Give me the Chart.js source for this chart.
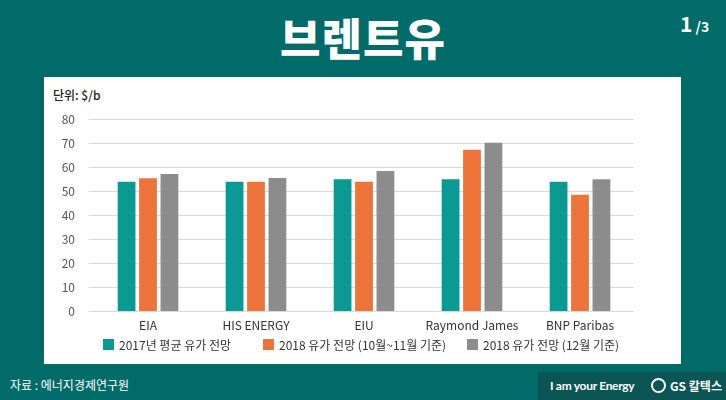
<!DOCTYPE html>
<html><head><meta charset="utf-8">
<script src="https://cdn.jsdelivr.net/npm/chart.js@4/dist/chart.umd.min.js"></script>
<style>
html,body{margin:0;padding:0;}
body{width:726px;height:400px;background:#016b69;position:relative;overflow:hidden;font-family:"Noto Sans CJK KR","Noto Sans",sans-serif;}
#title{position:absolute;left:0;width:726px;top:5px;text-align:center;color:#fff;font-size:44px;font-weight:900;letter-spacing:1px;line-height:64px;}
#page{position:absolute;left:680px;top:8px;color:#fff;font-weight:700;}
#page .a{font-size:21px;}
#page .b{font-size:14px;}
#panel{position:absolute;left:44px;top:77px;width:637px;height:287px;background:#fff;}
#unit{position:absolute;left:9px;top:9px;font-size:12px;color:#222;font-weight:500;}
#legend{position:absolute;left:0;top:0;width:637px;height:287px;pointer-events:none;}
#legend .box{position:absolute;width:11px;height:11px;top:262px;}
#legend .lab{position:absolute;top:259px;font-size:12px;line-height:17px;color:#333;white-space:nowrap;}
#src{position:absolute;left:10px;top:376px;color:#fff;font-size:12px;}
#brand{position:absolute;left:538px;top:372px;width:188px;height:28px;background:#0b5654;color:#fff;}
#brand .t{position:absolute;left:12px;top:6px;font-family:"Lato","Noto Sans",sans-serif;font-weight:700;font-size:12px;letter-spacing:-0.3px;}
#brand .logo{position:absolute;left:113px;top:6px;width:15px;height:15px;border-radius:50%;border:2px solid #fff;box-sizing:border-box;}
#brand .gs{position:absolute;left:132px;top:5px;font-weight:700;font-size:12px;}
canvas{position:absolute;left:0;top:0;}
</style></head>
<body>
<div id="title">브렌트유</div>
<div id="page"><span class="a">1</span><span class="b"> /3</span></div>
<div id="panel">
  <div id="unit">단위: $/b</div>
  <canvas id="c" width="637" height="287"></canvas>
  <div id="legend"></div>
</div>
<div id="src">자료 : 에너지경제연구원</div>
<div id="brand"><span class="t">I am your Energy</span><span class="logo"></span><span class="gs">GS 칼텍스</span></div>
<script>
const categories = ["EIA", "HIS ENERGY", "EIU", "Raymond James", "BNP Paribas"];
const seriesNames = ["2017년 평균 유가 전망", "2018 유가 전망 (10월~11월 기준)", "2018 유가 전망 (12월 기준)"];
const avg2017 = [53.9, 53.9, 55.0, 55.0, 53.9];
const oct2018 = [55.4, 53.9, 53.9, 67.2, 48.5];
const dec2018 = [57.2, 55.5, 58.4, 70.1, 55.0];
const yTicks = [0, 10, 20, 30, 40, 50, 60, 70, 80];
const colors = ["#0c9994", "#ec733a", "#8c8c8c"];

Chart.defaults.font.family = '"Noto Sans CJK KR","Noto Sans",sans-serif';
Chart.defaults.font.size = 12;
Chart.defaults.color = '#333';

// HTML legend built from the series names/colours
const legendX = [59, 219, 423];
const lg = document.getElementById('legend');
seriesNames.forEach((name, i) => {
  const b = document.createElement('div');
  b.className = 'box'; b.style.left = legendX[i] + 'px'; b.style.background = colors[i];
  const t = document.createElement('div');
  t.className = 'lab'; t.style.left = (legendX[i] + 16) + 'px'; t.textContent = name;
  lg.appendChild(b); lg.appendChild(t);
});

new Chart(document.getElementById('c'), {
  type: 'bar',
  data: {
    labels: categories,
    datasets: [avg2017, oct2018, dec2018].map((d, i) => ({
      label: seriesNames[i], data: d, backgroundColor: colors[i],
      barPercentage: 0.83, categoryPercentage: 0.595
    }))
  },
  options: {
    responsive: false, animation: false,
    layout: { padding: { left: 0, right: 47, top: 42, bottom: 24 } },
    plugins: {
      tooltip: { enabled: false },
      legend: { display: false }
    },
    scales: {
      x: {
        grid: { display: false, drawTicks: false },
        border: { display: false },
        ticks: { padding: 7, color: '#333', font: { size: 12 } }
      },
      y: {
        min: 0, max: 80,
        afterFit: s => { s.width = 50; },
        afterBuildTicks: s => { s.ticks = yTicks.map(v => ({ value: v })); },
        grid: { color: '#d9d9d9', drawTicks: true, tickLength: 5, tickColor: '#d9d9d9', lineWidth: 1 },
        border: { display: false },
        ticks: { padding: 14, color: '#555', font: { size: 12 } }
      }
    }
  }
});
</script>
</body></html>
